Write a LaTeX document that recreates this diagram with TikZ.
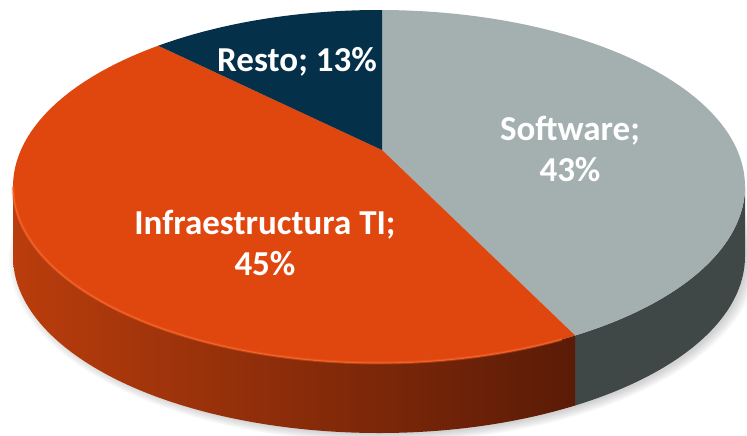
\documentclass[tikz,border=0pt]{standalone}
\usepackage{fontspec}
\setmainfont{Carlito}
\definecolor{resto}{HTML}{04304A}
\definecolor{infra}{HTML}{E0470E}
\definecolor{infraL}{HTML}{BA3D0C}
\definecolor{infraD}{HTML}{5A1B07}
\definecolor{rim}{HTML}{F8662C}
\definecolor{soft}{HTML}{A4B0AF}
\definecolor{softside}{HTML}{3F4747}
\begin{document}
\begin{tikzpicture}[x=1pt,y=1pt,
    rad/.style={x radius=366pt,y radius=176.5pt},
    lbl/.style={text=white,font=\bfseries\fontsize{35}{41}\selectfont,align=center}]
  \useasboundingbox (0,0) rectangle (747,436);
  \coordinate (ctr) at (379,249.5);
  \coordinate (apex) at (382,286);
  \coordinate (pright) at ([shift={(0:366pt and 176.5pt)}]ctr);
  \coordinate (pleft) at ([shift={(180:366pt and 176.5pt)}]ctr);
  \coordinate (pinfra) at ([shift={(127.1:366pt and 176.5pt)}]ctr);
  \coordinate (ptop) at ([shift={(89.5:366pt and 176.5pt)}]ctr);
  \coordinate (psoft) at ([shift={(302.4:366pt and 176.5pt)}]ctr);
  \foreach \k in {0,...,5}
    \fill[black,opacity=0.03] ([xshift=4pt,yshift=-72pt]ctr) ellipse[x radius=364pt+2pt*\k,y radius=176pt+1.5pt*\k];
  \begin{scope}
    \fill[softside] (psoft) arc[rad,start angle=302.4,end angle=360] -- ++(0,-70)
      arc[rad,start angle=360,end angle=302.4] -- cycle;
    \shade[left color=infraL,right color=infraD] (pleft) arc[rad,start angle=180,end angle=302.4] -- ++(0,-70)
      arc[rad,start angle=302.4,end angle=180] -- cycle;
  \end{scope}
  \fill[soft] (apex) -- (ptop) arc[rad,start angle=89.5,end angle=-57.6] -- cycle;
  \fill[infra] (apex) -- (psoft) arc[rad,start angle=302.4,end angle=127.1] -- cycle;
  \fill[resto] (apex) -- (pinfra) arc[rad,start angle=127.1,end angle=89.5] -- cycle;
  \draw[rim,line width=3pt,opacity=0.35] (pleft) arc[rad,start angle=180,end angle=300];
  \draw[rim,line width=1.2pt,opacity=0.8] (pleft) arc[rad,start angle=180,end angle=300];
  \node[lbl,anchor=base] (resto) at (297,364) {Resto; 13\%};
  \node[lbl,anchor=base] (software) at (570,254) {Software;\\43\%};
  \node[lbl,anchor=base] (infra) at (265,160) {Infraestructura TI;\\45\%};
\end{tikzpicture}
\end{document}
